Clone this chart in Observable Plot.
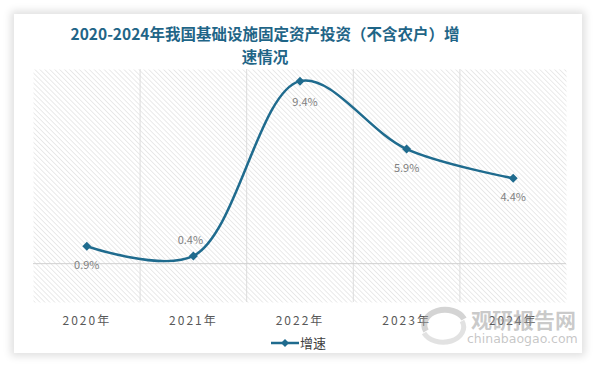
<!DOCTYPE html>
<html><head><meta charset="utf-8">
<script src="https://cdn.jsdelivr.net/npm/d3@7"></script>
<script src="https://cdn.jsdelivr.net/npm/@observablehq/plot@0.6"></script>
<style>
html,body{margin:0;padding:0;background:#fff;}
#page{position:relative;width:594px;height:366px;overflow:hidden;background:#fff;font-family:"Noto Sans CJK SC","Noto Sans",sans-serif;}
#card{position:absolute;left:14px;top:14px;width:568px;height:339px;background:#fff;box-shadow:0 0 8px 3px rgba(0,0,0,0.13);}
#title{position:absolute;left:-32px;top:22px;width:594px;text-align:center;font-weight:bold;font-size:15.5px;line-height:23px;color:#1f6587;}
#chart{position:absolute;left:0;top:60px;}
#legend{position:absolute;left:270px;top:333px;font-size:13px;color:#404040;display:flex;align-items:center;}
#wm1{position:absolute;left:471px;top:304px;font-size:21px;font-weight:bold;color:rgba(150,150,150,0.5);}
#wm2{position:absolute;left:467px;top:331px;font-size:12.5px;color:rgba(150,150,150,0.55);font-family:"DejaVu Sans",sans-serif;}
#logo{position:absolute;left:420px;top:305px;}
</style></head>
<body>
<div id="page">
  <div id="card"></div>
  <div id="title">2020-2024年我国基础设施固定资产投资（不含农户）增<br>速情况</div>
  <div id="chart"></div>
  <svg id="logo" width="48" height="40"><path d="M6,26 A19,14 0 0 1 44,14" fill="none" stroke="rgba(160,160,160,0.45)" stroke-width="6"/><path d="M42,16 A19,14 0 0 1 4,28" fill="none" stroke="rgba(190,190,190,0.45)" stroke-width="5"/></svg>
  <div id="wm1">观研报告网</div>
  <div id="wm2">chinabaogao.com</div>
  <div id="legend"><svg width="30" height="12"><line x1="1" y1="6" x2="29" y2="6" stroke="#1f6b8e" stroke-width="2.5"/><path d="M15,2 L19,6 L15,10 L11,6 Z" fill="#1f6b8e"/></svg><span>增速</span></div>
</div>
<script>
const years = [2020, 2021, 2022, 2023, 2024];
const yearLabels = ["2020年", "2021年", "2022年", "2023年", "2024年"];
const growth = [0.9, 0.4, 9.4, 5.9, 4.4];
const seriesName = "增速";

const data = years.map((y, i) => ({year: y, value: growth[i], label: growth[i].toFixed(1) + "%"}));
const boundaries = years.slice(0, -1).map(y => y + 0.5);
const lineColor = "#1f6b8e";

const chart = Plot.plot({
  width: 594,
  height: 280,
  marginTop: 9,
  marginBottom: 38,
  marginLeft: 33,
  marginRight: 28,
  style: {fontFamily: '"Noto Sans CJK SC","Noto Sans",sans-serif', background: "transparent", overflow: "visible"},
  x: {domain: [years[0] - 0.5, years[years.length - 1] + 0.5], ticks: years, tickFormat: (d) => yearLabels[years.indexOf(d)], tickSize: 0, tickPadding: 14, label: null},
  y: {domain: [-2, 10], axis: null},
  marks: [
    Plot.frame({fill: "url(#hatch)", stroke: null}),
    Plot.ruleX(boundaries, {stroke: "#dcdcdc", strokeWidth: 1}),
    Plot.ruleY([0], {stroke: "#d0d0d0", strokeWidth: 1}),
    Plot.line(data, {x: "year", y: "value", stroke: lineColor, strokeWidth: 2.5, curve: "catmull-rom"}),
    Plot.dot(data, {x: "year", y: "value", symbol: "square", rotate: 45, r: 3.6, fill: lineColor, stroke: null}),
    Plot.text(data.filter(d => d.year !== 2021 && d.year !== 2022), {x: "year", y: "value", text: "label", dy: 19, fill: "#808080", fontSize: 11}),
    Plot.text(data.filter(d => d.year === 2022), {x: "year", y: "value", text: "label", dy: 21, dx: 5, fill: "#808080", fontSize: 11}),
    Plot.text(data.filter(d => d.year === 2021), {x: "year", y: "value", text: "label", dy: -15, dx: -3, fill: "#808080", fontSize: 11})
  ]
});

const ns = "http://www.w3.org/2000/svg";
const defs = document.createElementNS(ns, "defs");
defs.innerHTML = '<pattern id="hatch" patternUnits="userSpaceOnUse" width="3.5" height="3.5" patternTransform="rotate(-45)"><rect width="3.5" height="3.5" fill="#ffffff"/><line x1="0" y1="0" x2="0" y2="3.5" stroke="#d6d6d6" stroke-width="1"/></pattern>';
chart.insertBefore(defs, chart.firstChild);
chart.querySelectorAll('[aria-label="x-axis tick label"] text').forEach(t => {
  t.setAttribute("fill", "#595959");
  t.style.fontSize = "12px";
  t.style.letterSpacing = "2px";
});
document.getElementById("chart").appendChild(chart);
</script>
</body></html>
